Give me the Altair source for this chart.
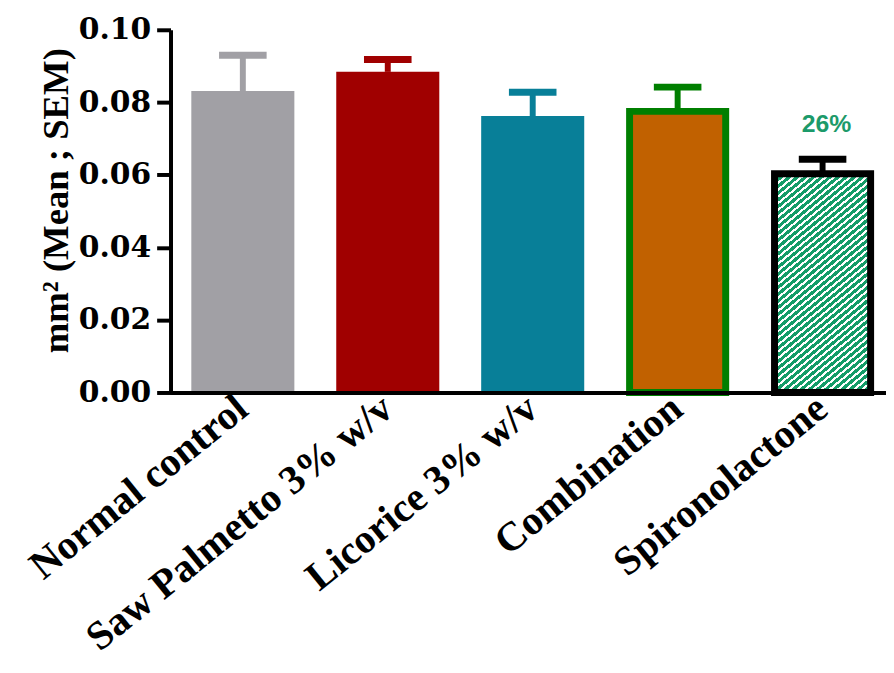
import math
import altair as alt
import pandas as pd

# ---- data ----
groups = ["Normal control", "Saw Palmetto 3% w/v", "Licorice 3% w/v", "Combination", "Spironolactone"]
means = [0.0831, 0.0884, 0.0762, 0.0775, 0.0603]
sems = [0.0099, 0.0034, 0.0066, 0.0067, 0.0040]
annotations = ["", "", "", "", "26%"]
y_ticks = [0.00, 0.02, 0.04, 0.06, 0.08, 0.10]

# ---- styles ----
fill_colors = ["#A1A0A5", "#A00000", "#087F98", "#C16100", "#179C6A"]
err_colors = ["#A1A0A5", "#A00000", "#087F98", "#007F00", "#000000"]
hatch_green = "#149C68"
W, H = 722, 366
YMAX = 0.10
STROKE = 7
PAD_INNER, PAD_OUTER, ALIGN = 0.289, 0.1128, 0.636

df = pd.DataFrame({"group": groups, "mean": means, "sem": sems, "note": annotations})

# hatch pattern built as a striped linear gradient (style only)
step = W / (len(groups) - PAD_INNER + 2 * PAD_OUTER)
bw = step * (1 - PAD_INNER) - STROKE
bh = means[4] / YMAX * H
Ph, Pv, g = 8.2, 6.8, 0.6
A, B = bw / Ph, bh / Pv
tot = A + B
k = tot / (A * A + B * B)
stops = []
i = 0
while i / tot < 1:
    s = i / tot
    m = min((i + g) / tot, 1.0)
    e = min((i + 1) / tot, 1.0)
    stops += [{"offset": s, "color": hatch_green}, {"offset": m, "color": hatch_green},
              {"offset": m, "color": "#ffffff"}, {"offset": e, "color": "#ffffff"}]
    i += 1
hatch = {"gradient": "linear", "x1": 0, "y1": 0, "x2": k * A, "y2": k * B, "stops": stops}

x_enc = alt.X(
    "group:N",
    sort=groups,
    scale=alt.Scale(paddingInner=PAD_INNER, paddingOuter=PAD_OUTER, align=ALIGN),
    axis=alt.Axis(
        title=None, labelAngle=-39, labelAlign="right", labelBaseline="middle",
        labelFont="Liberation Serif", labelFontWeight="bold", labelFontSize=41,
        labelColor="#000000", labelPadding=11, labelLimit=1000, labelOverlap=False,
        labelBound=False, ticks=False, tickSize=0, domainWidth=4, domainColor="#000000",
        zindex=1, grid=False,
    ),
)
y_scale = alt.Scale(domain=[0, YMAX], nice=False, zero=True)
y_enc = alt.Y(
    "mean:Q",
    scale=y_scale,
    axis=alt.Axis(
        values=y_ticks, format=".2f", title="mm² (Mean ; SEM)",
        labelFont="DejaVu Serif", labelFontWeight="bold", labelFontSize=30,
        labelColor="#000000", labelPadding=6, tickSize=14, tickWidth=4,
        tickColor="#000000", domainWidth=4, domainColor="#000000", grid=False,
        titleFont="Liberation Serif", titleFontWeight="bold", titleFontSize=37,
        titleColor="#000000", titleAngle=-90, titleX=-104, titleY=172,
        titleBaseline="alphabetic", titleAlign="center", zindex=1,
    ),
)

base = alt.Chart(df)
err_color = alt.Color("group:N", scale=alt.Scale(domain=groups, range=err_colors), legend=None)

plain = base.mark_bar(opacity=1).encode(
    x=x_enc, y=y_enc,
    fill=alt.Fill("group:N", scale=alt.Scale(domain=groups, range=fill_colors), legend=None),
).transform_filter(alt.FieldOneOfPredicate(field="group", oneOf=groups[:3]))

combo = base.mark_bar(width=bw, fill=fill_colors[3], stroke=err_colors[3], strokeWidth=STROKE, opacity=1).encode(
    x=x_enc, y=y_enc
).transform_filter(alt.FieldEqualPredicate(field="group", equal=groups[3]))

spiro = base.mark_bar(width=bw, fill=hatch, stroke="#000000", strokeWidth=STROKE, opacity=1).encode(
    x=x_enc, y=y_enc
).transform_filter(alt.FieldEqualPredicate(field="group", equal=groups[4]))

stems = base.transform_calculate(upper="datum.mean + datum.sem").mark_rule(strokeWidth=6, opacity=1).encode(
    x=x_enc, y=alt.Y("mean:Q", scale=y_scale), y2="upper:Q", color=err_color
)
caps = base.transform_calculate(upper="datum.mean + datum.sem").mark_tick(
    size=48, thickness=7, opacity=1
).encode(
    x=x_enc, y=alt.Y("upper:Q", scale=y_scale), color=err_color
)
note = base.transform_calculate(upper="datum.mean + datum.sem").transform_filter(
    "datum.note != ''"
).mark_text(
    font="Liberation Sans", fontWeight="bold", fontSize=25, color="#1C9A6A",
    dy=-28, dx=4, baseline="alphabetic", align="center",
).encode(x=x_enc, y=alt.Y("upper:Q", scale=y_scale), text="note:N")

chart = alt.layer(stems, caps, plain, combo, spiro, note).properties(
    width=W, height=H, background="#ffffff",
    padding={"left": 164, "top": 19, "right": 0, "bottom": 272},
    autosize=alt.AutoSizeParams(type="none"),
).configure_view(stroke=None)

chart.save("out.html", embed_options={"renderer": "svg", "actions": False})
